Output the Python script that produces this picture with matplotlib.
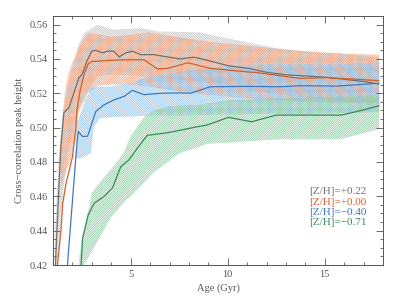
import matplotlib
matplotlib.use("Agg")
import matplotlib.pyplot as plt
from matplotlib.ticker import MultipleLocator

plt.rcParams["font.family"] = ["Liberation Serif", "DejaVu Serif"]
plt.rcParams["hatch.linewidth"] = 0.6

# --- data ---
labels = ["[Z/H]=+0.22", "[Z/H]=+0.00", "[Z/H]=\u22120.40", "[Z/H]=\u22120.71"]

gray_age = [1.1, 1.3, 1.41, 1.56, 1.82, 2.33, 2.5, 2.75, 3.0, 3.2, 3.55, 3.8, 4.13, 4.4, 4.74, 5.09,
            5.51, 6.2, 6.7, 7.56, 8.24, 8.85, 10.04, 11.07, 12.0, 13.03, 14.14, 15.08, 16.1, 17.1, 17.77]
gray_val = [0.415, 0.465, 0.49, 0.5088, 0.5117, 0.529, 0.531, 0.539, 0.5445, 0.545, 0.5435, 0.5445,
            0.5445, 0.5412, 0.5435, 0.5445, 0.5425, 0.5425, 0.5415, 0.540, 0.541, 0.5395, 0.536, 0.5345,
            0.5322, 0.5307, 0.530, 0.5293, 0.528, 0.5267, 0.5254]

orange_age = [1.2, 1.41, 1.5, 1.67, 1.84, 2.0, 2.16, 2.24, 2.4, 2.6, 2.8, 3.0, 3.2, 3.97, 4.83, 5.68,
              6.37, 6.88, 7.56, 7.9, 8.24, 9.1, 10.3, 11.67, 12.7, 13.7, 15.08, 16.45, 17.78]
orange_val = [0.417, 0.4404, 0.456, 0.4678, 0.4754, 0.483, 0.4987, 0.511, 0.522, 0.531, 0.537, 0.5385,
              0.5386, 0.5392, 0.5395, 0.5395, 0.5342, 0.5345, 0.5365, 0.5377, 0.537, 0.5345, 0.5332,
              0.5318, 0.5302, 0.5287, 0.5291, 0.5283, 0.5273]

blue_age = [1.72, 2.23, 2.3, 2.52, 2.78, 3.2, 3.63, 4.15, 4.66, 5.09, 5.68, 6.54, 7.56, 8.08, 9.1,
            10.98, 12.7, 13.7, 15.6, 17.78]
blue_val = [0.417, 0.491, 0.4978, 0.4948, 0.495, 0.5094, 0.5133, 0.5162, 0.5182, 0.5217, 0.5192, 0.520,
            0.5202, 0.520, 0.5238, 0.524, 0.5238, 0.5244, 0.5242, 0.5258]

green_age = [2.43, 2.52, 2.81, 3.12, 3.63, 4.06, 4.49, 4.91, 5.34, 5.85, 6.88, 7.56, 8.24, 8.93, 10.04,
             11.23, 12.5, 14.74, 15.85, 16.8, 17.78]
green_val = [0.417, 0.4357, 0.4492, 0.456, 0.46, 0.4649, 0.4773, 0.4812, 0.488, 0.4955, 0.497, 0.4985,
             0.5001, 0.5015, 0.506, 0.5034, 0.5073, 0.5073, 0.5073, 0.5098, 0.5127]

# error bands
gray_band_age = [1.1, 1.3, 1.5, 1.75, 2.0, 2.3, 2.6, 3.3, 4.1, 5.5, 6.4, 8.6, 9.3, 11.0, 12.7, 14.4,
                 16.1, 17.8]
gray_hi = [0.44, 0.485, 0.51, 0.523, 0.535, 0.548, 0.555, 0.560, 0.557, 0.558, 0.556, 0.5555, 0.5536,
           0.5497, 0.5458, 0.5442, 0.543, 0.541]
gray_lo = [0.41, 0.43, 0.46, 0.485, 0.495, 0.51, 0.518, 0.53, 0.531, 0.53, 0.529, 0.527, 0.525, 0.522,
           0.519, 0.517, 0.515, 0.512]

orange_band_age = [1.4, 1.6, 1.8, 2.0, 2.2, 2.3, 2.6, 2.8, 3.3, 4.0, 5.0, 5.9, 7.5, 9.0, 11.0, 12.7,
                   14.4, 16.0, 17.8]
orange_hi = [0.49, 0.52, 0.532, 0.538, 0.543, 0.546, 0.552, 0.555, 0.5545, 0.553, 0.554, 0.5555, 0.5526,
             0.550, 0.5478, 0.5458, 0.544, 0.543, 0.5425]
orange_lo = [0.465, 0.472, 0.478, 0.485, 0.495, 0.509, 0.515, 0.52, 0.5245, 0.525, 0.525, 0.524, 0.521,
             0.519, 0.517, 0.516, 0.515, 0.5145, 0.5145]

blue_band_age = [2.2, 2.4, 2.6, 2.95, 3.1, 3.4, 4.0, 5.0, 6.0, 8.0, 10.0, 12.0, 14.0, 16.0, 17.8]
blue_hi = [0.502, 0.508, 0.514, 0.523, 0.5235, 0.524, 0.524, 0.526, 0.530, 0.533, 0.536, 0.537, 0.537,
           0.537, 0.538]
blue_lo = [0.482, 0.482, 0.483, 0.485, 0.500, 0.5055, 0.506, 0.5065, 0.507, 0.507, 0.5075, 0.508, 0.508,
           0.5085, 0.509]

green_band_age = [2.35, 2.6, 3.0, 3.4, 4.0, 4.3, 4.7, 5.0, 5.7, 6.2, 6.9, 7.5, 8.6, 8.9, 10.1, 12.7,
                  15.8, 17.8]
green_hi = [0.425, 0.44, 0.462, 0.468, 0.476, 0.48, 0.487, 0.495, 0.5065, 0.510, 0.5123, 0.513, 0.5134,
            0.514, 0.516, 0.517, 0.518, 0.519]
green_lo = [0.41, 0.42, 0.428, 0.436, 0.448, 0.452, 0.457, 0.46, 0.468, 0.474, 0.480, 0.485, 0.489,
            0.4905, 0.4913, 0.4932, 0.4932, 0.4992]

line_cols = ["#707070", "#d0602c", "#3f78c0", "#3a8a58"]
hatch_cols = ["#c4c4c4", "#f2a582", "#94c4ea", "#94cea8"]
hatches = ["\\" * 15, "/" * 15, "\\" * 15, "/" * 15]
txt = "#555555"

fig = plt.figure(figsize=(3.99, 2.99), dpi=100)
ax = fig.add_axes([0.133, 0.1137, 0.827, 0.8328])

bands = [(gray_band_age, gray_lo, gray_hi), (orange_band_age, orange_lo, orange_hi),
         (blue_band_age, blue_lo, blue_hi), (green_band_age, green_lo, green_hi)]
for (bx, lo, hi), hc, h in zip(bands, hatch_cols, hatches):
    ax.fill_between(bx, lo, hi, facecolor="none", edgecolor=hc, hatch=h, linewidth=0)

series = [(gray_age, gray_val), (orange_age, orange_val), (blue_age, blue_val), (green_age, green_val)]
for (x, y), c in zip(series, line_cols):
    ax.plot(x, y, color=c, lw=0.9)

ax.set_xlim(1.0, 18.0)
ax.set_ylim(0.42, 0.565)
ax.xaxis.set_major_locator(MultipleLocator(5))
ax.xaxis.set_minor_locator(MultipleLocator(1))
ax.yaxis.set_major_locator(MultipleLocator(0.02))
ax.yaxis.set_minor_locator(MultipleLocator(0.005))
ax.yaxis.set_major_formatter(plt.FuncFormatter(lambda v, p: f"{v:.2f}"))
ax.tick_params(which="both", direction="in", top=True, right=True, colors=txt, labelsize=7.5,
               width=0.6)
ax.tick_params(which="major", length=5)
ax.tick_params(which="minor", length=2.5)
for s in ax.spines.values():
    s.set_color(txt)
    s.set_linewidth(0.7)

ax.set_xlabel("Age (Gyr)", color=txt, fontsize=7.5, labelpad=3)
ax.set_ylabel("Cross\u2212correlation peak height", color=txt, fontsize=7.5, labelpad=4)

for i, (lab, c) in enumerate(zip(labels, line_cols)):
    ax.text(0.95, 0.295 - i * 0.042, lab, color=c, fontsize=8, ha="right", va="center",
            transform=ax.transAxes)

fig.savefig("out.png", dpi=100)
